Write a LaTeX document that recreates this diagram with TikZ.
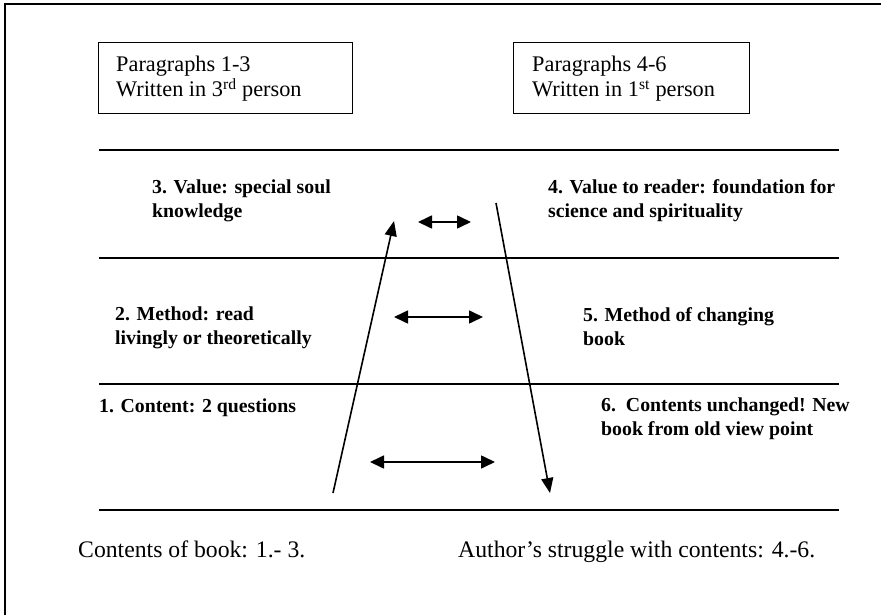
\documentclass[tikz,border=0pt]{standalone}
\usepackage{fontspec}
\setmainfont{Liberation Serif}
\usetikzlibrary{arrows.meta}
\begin{document}
\begin{tikzpicture}[x=1pt,y=-1pt,
  frame/.style={line width=1.4pt},
  rule/.style={line width=1.6pt},
  headbox/.style={draw,line width=1.4pt,minimum height=71pt,inner sep=0pt,anchor=north west},
  headtext/.style={font=\fontsize{22.3}{25}\selectfont,align=left,anchor=base west,inner sep=0pt},
  item/.style={font=\fontsize{19.8}{23.5}\selectfont\bfseries,align=left,anchor=base west,inner sep=0pt},
  foot/.style={font=\fontsize{23.7}{28}\selectfont,anchor=base west,inner sep=0pt},
  flow/.style={line width=1.6pt,-{Triangle[length=15pt,width=12pt]}},
  swap/.style={line width=1.6pt,{Triangle[length=14pt,width=13pt]}-{Triangle[length=14pt,width=13pt]}}]
\useasboundingbox (0,0) rectangle (881,615);

% outer frame (top and left edges)
\coordinate (fTL) at (5,4);
\coordinate (fTR) at (881,4);
\coordinate (fBL) at (5,615);
\draw[frame] (fTR) -- (fTL) -- (fBL);

% heading boxes (base anchors sit on the last text line)
\node[headbox,minimum width=254pt] (h1) at (98,42) {};
\node[headtext] (h1t) at (116,97) {Paragraphs 1-3\\Written in 3\textsuperscript{rd} person};
\node[headbox,minimum width=236pt] (h2) at (513,42) {};
\node[headtext] (h2t) at (532,97) {Paragraphs 4-6\\Written in 1\textsuperscript{st} person};

% horizontal rules
\foreach \n/\y in {r1/150,r2/258,r3/384,r4/510}{
  \coordinate (\n a) at (99,\y);
  \coordinate (\n b) at (839,\y);
  \draw[rule] (\n a) -- (\n b);
}

% levels
\node[item] (l3) at (152,217) {3. Value: special soul\\knowledge};
\node[item] (l4) at (548,217) {4. Value to reader: foundation for\\science and spirituality};
\node[item] (l2) at (115,344) {2. Method: read\\livingly or theoretically};
\node[item] (l5) at (583,345) {5. Method of changing\\book};
\node[item] (l1) at (99,412) {1. Content: 2 questions};
\node[item] (l6) at (601,435) {6.\ \ Contents unchanged! New\\book from old view point};

% rising and falling arrows
\coordinate (upS) at (333,493);
\coordinate (upE) at (394,221);
\draw[flow] (upS) -- (upE);
\coordinate (dnS) at (496,203);
\coordinate (dnE) at (550,493);
\draw[flow] (dnS) -- (dnE);

% two-way arrows
\coordinate (s3a) at (418,222); \coordinate (s3b) at (471,222);
\draw[swap] (s3a) -- (s3b);
\coordinate (s2a) at (394,317); \coordinate (s2b) at (483,317);
\draw[swap] (s2a) -- (s2b);
\coordinate (s1a) at (370,462); \coordinate (s1b) at (495,462);
\draw[swap] (s1a) -- (s1b);

% footer
\node[foot] (f1) at (78,557) {Contents of book: 1.- 3.};
\node[foot] (f2) at (458,557) {Author’s struggle with contents: 4.-6.};
\end{tikzpicture}
\end{document}
